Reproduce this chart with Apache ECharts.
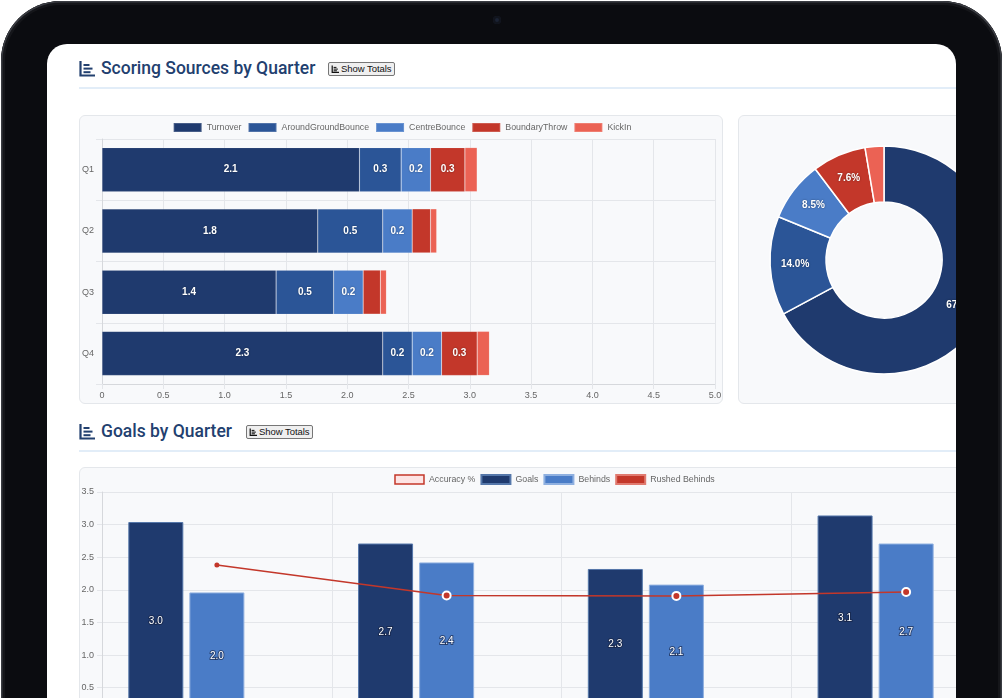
<!DOCTYPE html>
<html>
<head>
<meta charset="utf-8">
<script src="https://cdn.jsdelivr.net/npm/echarts@6/dist/echarts.min.js"></script>
<style>
  html, body { margin:0; padding:0; width:1004px; height:698px; overflow:hidden; background:#ffffff; }
  #frame { position:absolute; left:1px; top:1px; width:1001px; height:820px; background:#0b0c10; border-radius:60px; box-shadow: inset 0 0 0 1.5px #3a3c42, inset 0 0 0 4px #15161a; }
  #camera { position:absolute; left:493px; top:16px; width:8px; height:8px; border-radius:50%; background:#1b2233; box-shadow: inset 0 0 0 2px #11141c; }
  #screen { position:absolute; left:47px; top:44px; width:909px; height:800px; background:#ffffff; border-radius:20px; overflow:hidden; }
  .abs { position:absolute; }
  .heading { font-family: Roboto, 'Noto Sans', sans-serif; font-weight:500; font-size:17.5px; color:#22406f; white-space:nowrap; line-height:20px; }
  .btn { font-family: 'Liberation Sans', Arial, sans-serif; font-size:9.5px; color:#111; background:#efefef; border:1px solid #767676; border-radius:2px; height:12px; line-height:12px; padding:0 2px 0 2px; white-space:nowrap; box-sizing:content-box; letter-spacing:-0.05px; }
  .sep { height:2px; background:#e2edf8; }
  .card { background:#f8f9fb; border:1px solid #e4e7eb; border-radius:6px; box-sizing:border-box; }
</style>
</head>
<body>
<div id="frame"></div>
<div id="camera"></div>
<div id="screen">
  <!-- heading 1 (screen coords = page - (47,44)) -->
  <svg class="abs" style="left:32px;top:16px" width="17" height="17" viewBox="0 0 17 17">
    <path d="M1.5 1 V15.5 H16" stroke="#22406f" stroke-width="2.2" fill="none"/>
    <rect x="4.5" y="4" width="6" height="2" fill="#22406f"/>
    <rect x="4.5" y="7.6" width="9" height="2" fill="#22406f"/>
    <rect x="4.5" y="11.2" width="7" height="2" fill="#22406f"/>
  </svg>
  <div class="abs heading" style="left:54px;top:14px">Scoring Sources by Quarter</div>
  <div class="abs btn" style="left:281px;top:18px"><svg width="9" height="8" viewBox="0 0 17 17" style="vertical-align:-1px;margin-right:1px"><path d="M1.5 1 V15.5 H16" stroke="#111" stroke-width="2.6" fill="none"/><rect x="4.5" y="4" width="6" height="2.2" fill="#111"/><rect x="4.5" y="7.6" width="9" height="2.2" fill="#111"/><rect x="4.5" y="11.2" width="7" height="2.2" fill="#111"/></svg>Show Totals</div>
  <div class="abs sep" style="left:32px;top:43px;width:960px"></div>

  <div class="abs card" style="left:32px;top:71px;width:644px;height:289px"><div id="barChart" style="position:absolute;left:0;top:0;width:644px;height:289px"></div></div>
  <div class="abs card" style="left:691px;top:71px;width:290px;height:289px"><div id="pieChart" style="position:absolute;left:0;top:0;width:290px;height:289px"></div></div>

  <!-- heading 2 -->
  <svg class="abs" style="left:32px;top:379px" width="17" height="17" viewBox="0 0 17 17">
    <path d="M1.5 1 V15.5 H16" stroke="#22406f" stroke-width="2.2" fill="none"/>
    <rect x="4.5" y="4" width="6" height="2" fill="#22406f"/>
    <rect x="4.5" y="7.6" width="9" height="2" fill="#22406f"/>
    <rect x="4.5" y="11.2" width="7" height="2" fill="#22406f"/>
  </svg>
  <div class="abs heading" style="left:54px;top:377px">Goals by Quarter</div>
  <div class="abs btn" style="left:199px;top:381px"><svg width="9" height="8" viewBox="0 0 17 17" style="vertical-align:-1px;margin-right:1px"><path d="M1.5 1 V15.5 H16" stroke="#111" stroke-width="2.6" fill="none"/><rect x="4.5" y="4" width="6" height="2.2" fill="#111"/><rect x="4.5" y="7.6" width="9" height="2.2" fill="#111"/><rect x="4.5" y="11.2" width="7" height="2.2" fill="#111"/></svg>Show Totals</div>
  <div class="abs sep" style="left:32px;top:406px;width:960px"></div>

  <div class="abs card" style="left:32px;top:423px;width:949px;height:330px"><div id="goalsChart" style="position:absolute;left:0;top:0;width:949px;height:300px"></div></div>
</div>

<script>
// ---------- Data ----------
const quarters = ['Q1', 'Q2', 'Q3', 'Q4'];
const sourceNames = ['Turnover', 'AroundGroundBounce', 'CentreBounce', 'BoundaryThrow', 'KickIn'];
const turnover = [2.10, 1.76, 1.42, 2.29];
const aroundGroundBounce = [0.34, 0.53, 0.47, 0.24];
const centreBounce = [0.24, 0.24, 0.24, 0.24];
const boundaryThrow = [0.28, 0.15, 0.14, 0.29];
const kickIn = [0.10, 0.05, 0.05, 0.10];
const scoringTicks = [0, 0.5, 1.0, 1.5, 2.0, 2.5, 3.0, 3.5, 4.0, 4.5, 5.0];

const goalSeriesNames = ['Accuracy %', 'Goals', 'Behinds', 'Rushed Behinds'];
const goals = [3.04, 2.71, 2.32, 3.14];
const behinds = [1.96, 2.42, 2.08, 2.71];
const rushedBehinds = [0.20, 0.10, 0.15, 0.20];
const accuracy = [60.8, 52.8, 52.7, 53.7];
const goalsTicks = [0, 0.5, 1.0, 1.5, 2.0, 2.5, 3.0, 3.5];

// ---------- Styles ----------
const sourceColors = ['#1f3a6e', '#2b5597', '#4a7cc7', '#c3372a', '#eb6254'];
const FONT = "'Liberation Sans', Arial, sans-serif";
const gridColor = '#e4e6ea';
const labelColor = '#666';

const sourceValues = [turnover, aroundGroundBounce, centreBounce, boundaryThrow, kickIn];

// ---------- Bar chart ----------
const barChart = echarts.init(document.getElementById('barChart'));
barChart.setOption({
  animation: false,
  textStyle: { fontFamily: FONT },
  legend: {
    top: 1, left: 'center', itemWidth: 28, itemHeight: 9, itemGap: 6,
    icon: 'rect',
    textStyle: { fontSize: 8.8, color: labelColor, fontFamily: FONT },
    data: sourceNames
  },
  grid: { left: 22, top: 23, width: 613, height: 245, outerBoundsMode: 'none', containLabel: false },
  xAxis: {
    type: 'value', min: scoringTicks[0], max: scoringTicks[scoringTicks.length - 1], interval: 0.5,
    axisLine: { show: true, lineStyle: { color: '#d6d8dc' } },
    axisTick: { show: true, length: 5, lineStyle: { color: gridColor } },
    axisLabel: { fontSize: 9, color: labelColor, margin: 7, formatter: v => v === 0 ? '0' : v.toFixed(1) },
    splitLine: { show: true, lineStyle: { color: gridColor } }
  },
  yAxis: {
    type: 'category', data: quarters, inverse: true,
    axisLine: { show: true, lineStyle: { color: '#d6d8dc' } },
    axisTick: { show: true, length: 6, lineStyle: { color: gridColor } },
    axisLabel: { fontSize: 9, color: labelColor, margin: 8 },
    splitLine: { show: true, lineStyle: { color: gridColor } }
  },
  series: sourceNames.map((name, i) => ({
    name, type: 'bar', stack: 'src', barWidth: '72%',
    data: sourceValues[i],
    itemStyle: { color: sourceColors[i], borderColor: 'rgba(255,255,255,0.18)', borderWidth: 0.6 },
    label: {
      show: true, position: 'inside', color: '#fff', fontSize: 10, fontWeight: 'bold',
      textShadowColor: 'rgba(0,0,0,0.45)', textShadowBlur: 2,
      formatter: p => p.value >= 0.18 ? (Math.round(p.value * 10) / 10).toFixed(1) : ''
    }
  }))
});

// ---------- Pie chart ----------
const sum = a => a.reduce((s, v) => s + v, 0);
const pieChart = echarts.init(document.getElementById('pieChart'));
pieChart.setOption({
  animation: false,
  series: [{
    type: 'pie', center: [145, 144], radius: [58, 114], startAngle: 90, clockwise: true,
    data: sourceNames.map((name, i) => ({ name, value: sum(sourceValues[i]) })),
    color: sourceColors,
    itemStyle: { borderColor: '#ffffff', borderWidth: 1.5 },
    label: {
      show: true, position: 'inside', color: '#fff', fontSize: 10, fontWeight: 'bold', fontFamily: FONT,
      textShadowColor: 'rgba(0,0,0,0.5)', textShadowBlur: 2,
      formatter: p => p.percent > 5 ? p.percent.toFixed(1) + '%' : ''
    },
    labelLine: { show: false }
  }]
});

// ---------- Goals chart ----------
const goalsChart = echarts.init(document.getElementById('goalsChart'));
const barLabel = {
  show: true, position: 'inside', color: '#fff', fontSize: 10, fontFamily: FONT,
  textBorderColor: 'rgba(20,30,60,0.6)', textBorderWidth: 2,
  formatter: p => p.value.toFixed(1)
};
goalsChart.setOption({
  animation: false,
  textStyle: { fontFamily: FONT },
  legend: {
    top: 1, left: 'center', itemWidth: 29, itemHeight: 9, itemGap: 5,
    textStyle: { fontSize: 8.8, color: labelColor, fontFamily: FONT },
    data: [
      { name: goalSeriesNames[0], icon: 'rect', itemStyle: { color: '#fde4e4', borderColor: '#c3372a', borderWidth: 1.5 } },
      { name: goalSeriesNames[1], icon: 'rect' },
      { name: goalSeriesNames[2], icon: 'rect' },
      { name: goalSeriesNames[3], icon: 'rect' }
    ]
  },
  grid: { left: 22, top: 24, width: 919, height: 228.3, outerBoundsMode: 'none', containLabel: false },
  xAxis: {
    type: 'category', data: quarters,
    axisLine: { show: true, lineStyle: { color: '#d6d8dc' } },
    axisTick: { show: false },
    axisLabel: { fontSize: 9, color: labelColor },
    splitLine: { show: true, lineStyle: { color: gridColor } }
  },
  yAxis: [{
    type: 'value', min: goalsTicks[0], max: goalsTicks[goalsTicks.length - 1], interval: 0.5,
    axisLine: { show: true, lineStyle: { color: '#d6d8dc' } },
    axisTick: { show: true, length: 5, lineStyle: { color: gridColor } },
    axisLabel: { fontSize: 9, color: labelColor, margin: 8, formatter: v => v === 0 ? '0' : v.toFixed(1) },
    splitLine: { show: true, lineStyle: { color: gridColor } }
  }, {
    type: 'value', min: 20, max: 80, interval: 10, show: false,
    splitLine: { show: false }
  }],
  series: [
    {
      name: goalSeriesNames[0], type: 'line', yAxisIndex: 1, z: 5,
      data: accuracy.map((v, i) => i === 0
        ? { value: v, symbolSize: 5, itemStyle: { borderWidth: 0 } }
        : v),
      color: '#c3372a',
      lineStyle: { color: '#c3372a', width: 1.5 },
      symbol: 'circle', symbolSize: 8,
      itemStyle: { color: '#c3372a', borderColor: '#ffffff', borderWidth: 2 }
    },
    {
      name: goalSeriesNames[1], type: 'bar', barWidth: 55, barGap: '11%', data: goals,
      itemStyle: { color: '#1f3a6e', borderColor: '#5577aa', borderWidth: 1 }, label: barLabel
    },
    {
      name: goalSeriesNames[2], type: 'bar', barWidth: 55, barGap: '11%', data: behinds,
      itemStyle: { color: '#4a7cc7', borderColor: '#8fb0e0', borderWidth: 1 }, label: barLabel
    },
    {
      name: goalSeriesNames[3], type: 'bar', barWidth: 55, barGap: '11%', data: rushedBehinds,
      itemStyle: { color: '#c3372a', borderColor: '#e07a70', borderWidth: 1 }, label: barLabel
    }
  ]
});
</script>
</body>
</html>
